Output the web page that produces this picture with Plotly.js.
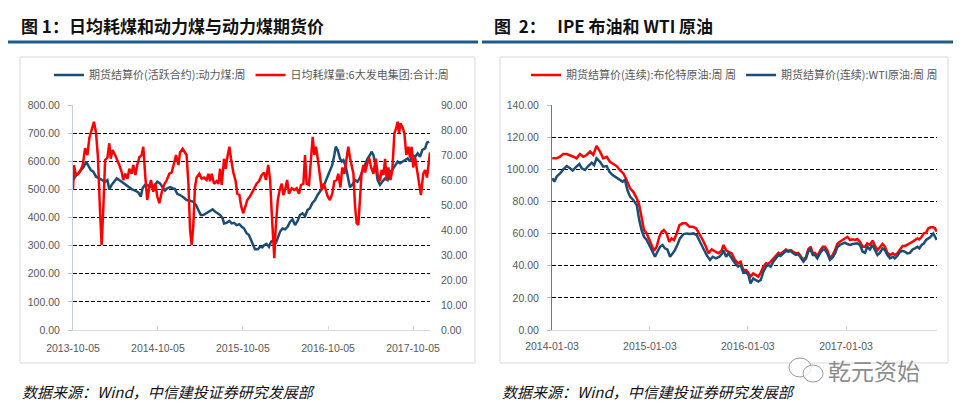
<!DOCTYPE html>
<html>
<head>
<meta charset="utf-8">
<script src="https://cdn.plot.ly/plotly-3.0.1.min.js"></script>
<style>html,body{margin:0;padding:0;background:#fff;}#chart{width:960px;height:409px;}</style>
</head>
<body>
<div id="chart"></div>
<script>
// ---------- Chart 1: coal ----------
const coalStart = '2013-10-05';
const coalPriceName = '期货结算价(活跃合约):动力煤:周';
const coalUseName = '日均耗煤量:6大发电集团:合计:周';
// days since coalStart
const coalPriceDays = [0,9,23,37,47,56,66,76,87,99,113,128,138,148,156,166,176,188,199,209,224,238,252,266,281,291,299,309,319,331,342,352,362,374,385,395,405,417,428,438,448,460,474,488,503,517,529,539,549,560,574,589,600,610,620,632,643,649,660,672,682,692,703,715,725,735,746,
756,765,775,782,794,804,814,822,832,842,851,861,871,880,890,900,911,922,933,943,954,965,975,986,997,1008,1018,1028,1040,1051,1061,1071,1083,1094,1104,1114,1123,1129,1137,1147,1155,1162,1172,1180,1190,1200,1212,1223,1233,1243,1255,1266,1276,1283,1291,1298,1309,1319,1329,1341,1352,1362,1372,1384,1395,1405,1415,1427,1438,1448,1458,1470,1481,1491,1501,1513,1521,1530];
const coalPrice = [533,545,557,569,581,599,581,569,563,545,539,533,527,533,500,516,527,539,533,527,516,508,501,496,489,474,504,516,516,510,508,516,527,521,508,496,504,508,504,501,484,480,472,462,460,456,444,427,409,409,415,424,429,421,415,409,397,379,381,388,379,381,373,376,367,361,344,
338,320,296,287,287,296,294,302,306,296,314,320,308,332,350,361,358,367,385,393,373,388,409,415,405,427,433,451,462,480,492,504,524,548,563,587,622,652,640,610,599,604,581,545,508,516,533,527,542,563,587,610,622,634,622,593,533,516,527,539,533,563,569,587,599,593,599,604,610,599,622,616,628,616,640,646,666,670];
const coalUseDays = [0,4,13,23,33,42,52,62,70,80,90,99,107,116,123,130,138,148,156,162,170,181,191,199,209,216,225,234,242,252,259,268,276,285,295,302,311,319,328,335,345,354,362,371,381,391,403,414,424,434,443,453,460,471,481,488,496,503,510,517,524,531,543,553,563,574,582,589,596,606,617,625,632,639,649,656,663,672,679,689,699,706,715,723,732,741,749,761,
775,789,799,811,821,829,839,847,854,861,865,871,880,888,897,904,911,920,928,940,951,961,971,980,990,997,1004,1014,1023,1030,1037,1044,1051,1061,1069,1076,1083,1094,1104,1114,1123,1133,1140,1149,1157,1166,1176,1183,1190,1198,1205,1212,1219,1226,1233,1240,1248,1255,1263,1272,1281,1291,1301,1309,1319,1326,1334,1341,1348,1355,1364,1372,1381,1388,1395,1401,1407,1415,1424,1432,1441,1448,1455,1462,1470,1478,1487,1495,1505,1513,1521,1530,1534];
const coalUse = [56,66,62,62.5,64,66,72.7,70,76.7,80,83.3,78.8,69.3,48,34,48,68,69,74.7,68.5,72,70,68,66,63.3,60,62.5,60.5,64.5,62.5,66,62,66,69,70,73.3,61,52,57,60,55.3,58.5,53.5,50.7,55,58,60,62.5,63,67,70,66,71,72.5,71,70,58.5,40,34,42,57,61,62.5,60.5,61,60,62.5,59.5,62.5,58.5,59.5,58.5,64.5,58,68.5,64.5,69,73.3,68.5,63,59.5,54.5,54,49.3,46.7,49.3,52,53.5,
56,58.5,59.5,62,63,60,66,60,46.7,33.3,28.7,41,52,56,58.5,54,56,60,54.5,56.7,56,56.7,54.5,58,58.5,70,58.5,58,68,77.3,70,73.3,69,61,56,58.5,57,53.5,52,54.5,59.5,60,62.5,57,65,62.5,68.5,73.3,69,65,62.5,49.3,42.7,42,53.5,62.5,66,63,66,69,65,62.5,68.5,62.5,59.5,64,62,68.5,60,65,60,64,78.7,80.5,83.3,78.7,82.7,81.3,78.7,70,73.3,69,73.3,65,69,64,58.5,54,62.5,64,61,70,71];
const coalLeftTicks = [0,100,200,300,400,500,600,700,800];
const coalRightTicks = [0,10,20,30,40,50,60,70,80,90];

// ---------- Chart 2: oil ----------
const oilStart = '2014-01-03';
const brentName = '期货结算价(连续):布伦特原油:周 周';
const wtiName = '期货结算价(连续):WTI原油:周 周';
const brentDays = [1,17,30,42,55,67,80,92,104,117,129,142,154,166,179,191,204,216,229,241,253,266,278,291,303,316,325,334,343,353,363,371,380,390,400,409,417,427,437,446,455,465,475,487,499,512,524,537,549,562,574,583,595,608,620,632,
639,649,657,670,682,694,703,713,723,732,740,750,760,769,778,788,798,806,815,825,835,844,852,862,872,881,890,899,909,918,927,937,947,955,964,972,980,989,999,1009,1017,1026,1036,1046,1055,1063,1073,1083,1092,1101,1111,1121,1129,1138,1148,1158,1167,1175,1185,1195,1204,1213,1222,1232,1241,1250,1260,1270,1278,1287,1297,1307,1316,1324,1334,1344,1353,1362,1369,1378,1386,1394,1403,1411,1421,1427,1434];
const brent = [106.8,106.8,107.8,109.5,109.5,108.9,107.8,106.8,109.5,107.8,108.9,111,108.9,114.5,111,106.8,107.8,104.7,103.3,102,99.5,97.4,93.3,88.1,86,81.9,77.8,69.5,62.2,60.1,56,51.8,49.3,51.8,58,61.2,62.2,60.1,54.9,57,56,60.1,65.3,66.4,66.4,64.3,64.3,63.3,60.1,56,51.8,47.7,50.1,48.7,47.7,49.3,
52.9,49.7,48.7,47.7,43.6,41.5,42.5,37.3,37.3,35.7,33.2,35.2,34.2,33.2,35.7,39.4,41.5,41.1,42.5,44.6,46.7,48,47.3,48.7,50.1,49.3,49.7,48.7,47.7,48,46,43.6,45.6,50.1,51.8,47.7,48,46,49.3,51.8,51.8,49.7,44.6,46.7,49.7,53.5,54.9,56,57,58,56,56.4,56,56.6,54.9,51.8,51.8,53.9,52.9,55.6,52.3,49.7,51.4,53.5,51.8,48,46.7,47.7,46.7,47.7,50.1,52.3,52.3,52.9,53.9,54.9,56,57,56.4,58,60.1,60.5,63.3,63.9,63.9,63.3,61.2];
const wtiDays = [1,9,17,30,42,55,67,77,89,102,111,123,135,148,157,166,179,191,204,214,226,239,251,263,272,281,291,303,316,325,334,343,353,363,375,384,393,403,412,421,430,440,450,458,467,477,489,502,514,527,539,552,564,576,589,599,611,624,636,
639,649,657,670,682,694,703,713,723,732,740,750,760,769,778,788,798,806,815,825,835,844,852,862,872,881,890,899,909,918,927,937,947,955,964,972,980,989,999,1009,1017,1026,1036,1046,1055,1063,1073,1083,1092,1101,1111,1121,1129,1138,1148,1158,1167,1175,1185,1195,1204,1213,1222,1232,1241,1250,1260,1270,1278,1287,1297,1307,1316,1324,1334,1344,1353,1362,1369,1378,1386,1394,1403,1411,1421,1427,1434];
const wti = [94.4,92.3,95.4,97.4,99.9,102,100.6,99.2,101.3,103.3,100.6,99.6,102,104.1,102.6,106.8,104.7,101.6,102,98.5,96.4,95,93.7,92.3,93.3,87.1,83,80.9,77.8,68.5,62.2,58,56,52.3,48.7,45.6,48.7,51.8,52.9,50.8,50.1,45.6,47.7,49.7,52.9,57,59.5,60.1,59.7,60.1,59.1,54.9,50.8,46.7,43.6,45.6,44.6,45.6,48,
49.7,45.6,47.7,44.6,41.5,39.4,40.4,35.7,36.3,34.2,29,32.1,31.1,30.1,31.1,36.3,39.4,40.4,39.4,42.5,44.6,46.7,46,47.7,49.3,48.7,49.1,47.7,46.7,47.3,44.6,42.5,44.6,48.7,50.1,46.7,46.7,44.6,47.7,50.1,50.1,47.7,43.6,45.2,47.7,51.4,52.9,53.5,54.3,53.5,52.9,53.5,53.5,53.9,52.9,48.7,48,51.8,50.1,52.9,49.7,46.7,48,50.8,49.7,46.7,44.6,45.6,44.6,46,48.7,49.3,48.7,47.7,48,50.1,50.8,51.8,50.8,52.9,53.9,56,57,58,60.1,58,56];
const oilTicks = [0,20,40,60,80,100,120,140];

// ---------- texts ----------
const title1 = '图 1：日均耗煤和动力煤与动力煤期货价';
const title2 = '图\u00a0\u00a02：\u00a0\u00a0\u00a0IPE 布油和 WTI 原油';
const sourceText = '数据来源：Wind，中信建投证券研究发展部';
const watermark = '乾元资始';

// ---------- helpers ----------
function toDates(start, days) {
  const t0 = Date.parse(start + 'T00:00:00Z');
  return days.map(d => new Date(t0 + Math.round(d) * 86400000).toISOString().slice(0, 10));
}
const W = 960, H = 409;
const px = x => x / W;
const py = y => 1 - y / H;

const BLUE = '#1B4D75', RED = '#FF0000';
const tickFont = {family: 'Liberation Sans, Arial, sans-serif', size: 10.5, color: '#595959'};
const cjk = 'Noto Sans CJK SC, sans-serif';

const traces = [
  {x: toDates(coalStart, coalPriceDays), y: coalPrice, name: coalPriceName, type: 'scatter', mode: 'lines',
   line: {color: BLUE, width: 2.5}, xaxis: 'x', yaxis: 'y', legend: 'legend'},
  {x: toDates(coalStart, coalUseDays), y: coalUse, name: coalUseName, type: 'scatter', mode: 'lines',
   line: {color: RED, width: 2.5}, xaxis: 'x', yaxis: 'y2', legend: 'legend'},
  {x: toDates(oilStart, brentDays), y: brent, name: brentName, type: 'scatter', mode: 'lines',
   line: {color: RED, width: 2.5}, xaxis: 'x2', yaxis: 'y3', legend: 'legend2'},
  {x: toDates(oilStart, wtiDays), y: wti, name: wtiName, type: 'scatter', mode: 'lines',
   line: {color: BLUE, width: 2.5}, xaxis: 'x2', yaxis: 'y3', legend: 'legend2'}
];

const yDom = [py(330), py(105)];
const gridStyle = {showgrid: true, gridcolor: '#000000', gridwidth: 1, griddash: '4px,2px'};

const layout = {
  width: W, height: H,
  margin: {l: 0, r: 0, t: 0, b: 0},
  paper_bgcolor: '#ffffff', plot_bgcolor: 'rgba(0,0,0,0)',
  showlegend: true,
  xaxis: {type: 'date', domain: [px(73), px(430)], range: [coalStart, '2017-12-17'], anchor: 'y',
    tick0: coalStart, dtick: 'M12', tickformat: '%Y-%m-%d', showgrid: false, zeroline: false,
    showline: true, linecolor: '#D9D9D9', linewidth: 1, ticks: 'inside', ticklen: 4, tickcolor: '#D9D9D9',
    tickfont: tickFont, ticklabelstandoff: 8},
  yaxis: Object.assign({domain: yDom, range: [0, 800], anchor: 'x', tickvals: coalLeftTicks, tickformat: '.2f',
    zeroline: false, showline: true, linecolor: '#BFD0E2', linewidth: 1, ticks: 'outside', ticklen: 4,
    tickcolor: '#BFBFBF', tickfont: tickFont, ticklabelstandoff: 6}, gridStyle),
  yaxis2: {overlaying: 'y', side: 'right', anchor: 'x', range: [0, 90], tickvals: coalRightTicks, tickformat: '.2f',
    showgrid: false, zeroline: false, showline: false, ticks: '', tickfont: tickFont, ticklabelstandoff: 10},
  xaxis2: {type: 'date', domain: [px(552), px(937)], range: [oilStart, '2017-12-08'], anchor: 'y3',
    tick0: oilStart, dtick: 'M12', tickformat: '%Y-%m-%d', showgrid: false, zeroline: false,
    showline: true, linecolor: '#D9D9D9', linewidth: 1, ticks: 'inside', ticklen: 4, tickcolor: '#D9D9D9',
    tickfont: tickFont, ticklabelstandoff: 6},
  yaxis3: Object.assign({domain: yDom, range: [0, 140], anchor: 'x2', tickvals: oilTicks, tickformat: '.2f',
    zeroline: false, showline: true, linecolor: '#5D7C99', linewidth: 1, ticks: 'outside', ticklen: 4,
    tickcolor: '#BFBFBF', tickfont: tickFont, ticklabelstandoff: 6}, gridStyle),
  legend: {orientation: 'h', x: px(49), y: py(75), xanchor: 'left', yanchor: 'middle',
    font: {family: cjk, size: 11, color: '#595959'}, bgcolor: 'rgba(0,0,0,0)', borderwidth: 0, traceorder: 'normal'},
  legend2: {orientation: 'h', x: px(526), y: py(75), xanchor: 'left', yanchor: 'middle',
    font: {family: cjk, size: 11, color: '#595959'}, bgcolor: 'rgba(0,0,0,0)', borderwidth: 0, traceorder: 'normal'},
  shapes: [
    {type: 'rect', xref: 'paper', yref: 'paper', x0: px(20), x1: px(475), y0: py(363), y1: py(57),
     line: {color: '#D9D9D9', width: 1}, fillcolor: 'rgba(0,0,0,0)', layer: 'below'},
    {type: 'rect', xref: 'paper', yref: 'paper', x0: px(500), x1: px(948), y0: py(363), y1: py(57),
     line: {color: '#D9D9D9', width: 1}, fillcolor: 'rgba(0,0,0,0)', layer: 'below'},
    {type: 'line', xref: 'paper', yref: 'paper', x0: px(8), x1: px(478), y0: py(42), y1: py(42),
     line: {color: '#1F5A8A', width: 3}},
    {type: 'line', xref: 'paper', yref: 'paper', x0: px(482), x1: px(953), y0: py(42), y1: py(42),
     line: {color: '#1F5A8A', width: 3}},
    {type: 'circle', xref: 'paper', yref: 'paper', x0: px(789), x1: px(811), y0: py(377), y1: py(358),
     line: {color: '#9A9A9A', width: 1}, fillcolor: 'rgba(255,255,255,0.8)'},
    {type: 'circle', xref: 'paper', yref: 'paper', x0: px(803), x1: px(823), y0: py(382), y1: py(365),
     line: {color: '#9A9A9A', width: 1}, fillcolor: 'rgba(255,255,255,0.8)'}
  ],
  annotations: [
    {text: '<b>' + title1 + '</b>', xref: 'paper', yref: 'paper', x: px(19), y: py(25), xanchor: 'left', yanchor: 'middle',
     showarrow: false, font: {family: cjk, size: 17, color: '#111111'}},
    {text: '<b>' + title2 + '</b>', xref: 'paper', yref: 'paper', x: px(492), y: py(25), xanchor: 'left', yanchor: 'middle',
     showarrow: false, font: {family: cjk, size: 17, color: '#111111'}},
    {text: '<i>' + sourceText + '</i>', xref: 'paper', yref: 'paper', x: px(20), y: py(391), xanchor: 'left', yanchor: 'middle',
     showarrow: false, font: {family: cjk, size: 15, color: '#111111'}},
    {text: '<i>' + sourceText + '</i>', xref: 'paper', yref: 'paper', x: px(500), y: py(391), xanchor: 'left', yanchor: 'middle',
     showarrow: false, font: {family: cjk, size: 15, color: '#111111'}},
    {text: watermark, xref: 'paper', yref: 'paper', x: px(826), y: py(370), xanchor: 'left', yanchor: 'middle',
     showarrow: false, font: {family: cjk, size: 23, color: '#8C8C8C'}}
  ]
};

Plotly.newPlot('chart', traces, layout, {staticPlot: true, displayModeBar: false});
</script>
</body>
</html>
